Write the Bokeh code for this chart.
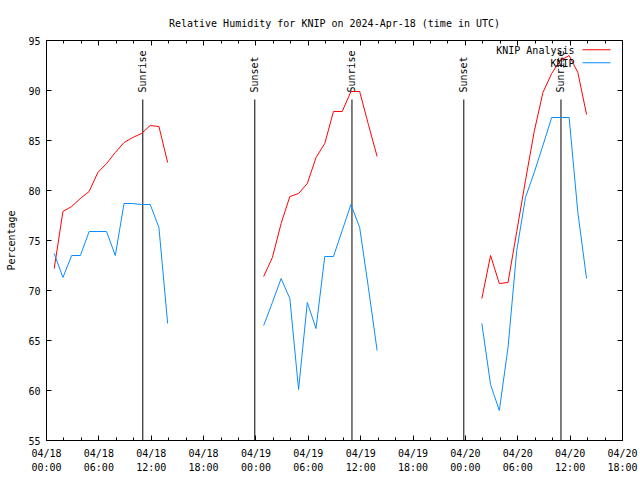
import pandas as pd
from math import pi
from bokeh.plotting import figure
from bokeh.models import (Range1d, FixedTicker, DatetimeTickFormatter, DatetimeAxis,
                          LinearAxis, Label, BoxAnnotation, ColumnDataSource,
                          CustomJSTickFormatter)
from bokeh.core.properties import value
from bokeh.embed import file_html
from bokeh.resources import INLINE

# ---------------- data ----------------
title_text = "Relative Humidity for KNIP on 2024-Apr-18 (time in UTC)"
x_start = "2024-04-18 00:00"
x_end = "2024-04-20 18:00"
y_min, y_max = 55, 95
y_ticks = [55, 60, 65, 70, 75, 80, 85, 90, 95]

# hourly observations (UTC), three separate segments
seg_starts = ["2024-04-18 00:53", "2024-04-19 00:53", "2024-04-20 01:53"]

analysis_seg1 = [72.2, 77.9, 78.4, 79.2, 79.9, 81.8, 82.7, 83.8, 84.8, 85.3, 85.7, 86.5, 86.4, 82.8]
analysis_seg2 = [71.4, 73.3, 76.7, 79.4, 79.7, 80.7, 83.3, 84.7, 87.9, 87.9, 89.9, 89.9, 86.6, 83.4]
analysis_seg3 = [69.2, 73.5, 70.7, 70.8, 75.9, 81.0, 85.9, 89.8, 91.7, 93.0, 93.5, 91.8, 87.6]

knip_seg1 = [73.7, 71.3, 73.5, 73.5, 75.9, 75.9, 75.9, 73.5, 78.7, 78.7, 78.6, 78.6, 76.3, 66.7]
knip_seg2 = [66.5, 68.8, 71.2, 69.2, 60.1, 68.8, 66.2, 73.4, 73.4, 76.0, 78.6, 76.3, 70.3, 64.0]
knip_seg3 = [66.7, 60.6, 58.0, 64.3, 74.0, 79.3, 81.8, 84.5, 87.3, 87.3, 87.3, 77.8, 71.2]

sun_times = ["2024-04-18 11:02", "2024-04-18 23:52", "2024-04-19 11:00",
             "2024-04-19 23:49", "2024-04-20 10:57"]
sun_names = ["Sunrise", "Sunset", "Sunrise", "Sunset", "Sunrise"]
sun_line_top = 89.1
sun_label_y = 89.8

series_names = ["KNIP Analysis", "KNIP"]
series_colors = ["#ff0000", "#0a8cff"]

# ---------------- figure ----------------
FONT = "DejaVu Sans Mono"
FS = "10px"

p = figure(width=640, height=480, x_axis_type="datetime",
           x_range=Range1d(pd.Timestamp(x_start), pd.Timestamp(x_end)),
           y_range=Range1d(y_min, y_max),
           output_backend="svg", toolbar_location=None,
           min_border_left=46, min_border_right=18, min_border_top=40, min_border_bottom=40,
           title=title_text)
p.background_fill_color = "white"
p.border_fill_color = "white"
p.outline_line_color = "black"
p.outline_line_width = 1
p.xgrid.visible = False
p.ygrid.visible = False

p.title.align = "center"
p.title.text_font = FONT
p.title.text_font_size = FS
p.title.text_font_style = "normal"
p.title.text_color = "black"
p.title.standoff = 24

major_ms = [t.value / 1e6 for t in pd.date_range(x_start, x_end, freq="6h")]
minor_ms = [t.value / 1e6 for t in pd.date_range(x_start, x_end, freq="2h")]
fmt = "%m/%d\n%H:%M"
dt_fmt = DatetimeTickFormatter(hours=fmt, hourmin=fmt, days=fmt, minutes=fmt, minsec=fmt)
blank_fmt = CustomJSTickFormatter(code="return ''")


def style_axis(ax):
    ax.axis_line_color = "black"
    ax.major_tick_line_color = "black"
    ax.major_tick_in = 5
    ax.major_tick_out = 0
    ax.minor_tick_in = 3
    ax.minor_tick_out = 0
    ax.minor_tick_line_color = "black"
    ax.major_label_text_font = FONT
    ax.major_label_text_font_size = FS
    ax.major_label_text_color = "black"


xa = p.xaxis[0]
xa.ticker = FixedTicker(ticks=major_ms, minor_ticks=minor_ms)
xa.formatter = dt_fmt
style_axis(xa)
xa.major_label_standoff = 7
xa.major_label_text_line_height = 1.3

ya = p.yaxis[0]
ya.ticker = FixedTicker(ticks=y_ticks, minor_ticks=[])
style_axis(ya)
ya.minor_tick_line_color = None
ya.major_label_standoff = 6
ya.axis_label = "Percentage"
ya.axis_label_text_font = FONT
ya.axis_label_text_font_size = FS
ya.axis_label_text_font_style = "normal"
ya.axis_label_text_color = "black"
ya.axis_label_standoff = 8

top_ax = DatetimeAxis(ticker=FixedTicker(ticks=major_ms, minor_ticks=minor_ms),
                      formatter=blank_fmt)
style_axis(top_ax)
top_ax.major_label_standoff = 0
p.add_layout(top_ax, "above")

right_ax = LinearAxis(ticker=FixedTicker(ticks=y_ticks, minor_ticks=[]), formatter=blank_fmt)
style_axis(right_ax)
right_ax.minor_tick_line_color = None
right_ax.major_label_standoff = 0
p.add_layout(right_ax, "right")

# sunrise / sunset markers
sun_src = ColumnDataSource(dict(x=pd.to_datetime(sun_times), name=sun_names,
                                y0=[y_min] * len(sun_times), y1=[sun_line_top] * len(sun_times),
                                ly=[sun_label_y] * len(sun_times)))
p.segment(x0="x", y0="y0", x1="x", y1="y1", source=sun_src, line_color="black", line_width=1)
p.text(x="x", y="ly", text="name", source=sun_src, angle=pi / 2,
       text_align="left", text_baseline="middle",
       text_font=value(FONT), text_font_size=FS, text_color="black")

# data lines
for start, a_vals, k_vals in [(seg_starts[0], analysis_seg1, knip_seg1),
                              (seg_starts[1], analysis_seg2, knip_seg2),
                              (seg_starts[2], analysis_seg3, knip_seg3)]:
    p.line(pd.date_range(start, periods=len(a_vals), freq="h"), a_vals,
           line_color=series_colors[0], line_width=1)
    p.line(pd.date_range(start, periods=len(k_vals), freq="h"), k_vals,
           line_color=series_colors[1], line_width=1)

# gnuplot-style key (text right-aligned, sample line to the right)
key_text_x = 528
key_rows_y = [390, 377]
for name, color, ky in zip(series_names, series_colors, key_rows_y):
    p.add_layout(Label(x=key_text_x, y=ky, x_units="screen", y_units="screen", text=name,
                       text_align="right", text_baseline="middle",
                       text_font=FONT, text_font_size=FS, text_color="black"))
    p.add_layout(BoxAnnotation(left=key_text_x + 8, right=key_text_x + 36,
                               bottom=ky + 0.3, top=ky + 1.3,
                               left_units="screen", right_units="screen",
                               bottom_units="screen", top_units="screen",
                               fill_color=color, fill_alpha=1.0, line_alpha=0))

open("out.html", "w").write(file_html(p, INLINE))
